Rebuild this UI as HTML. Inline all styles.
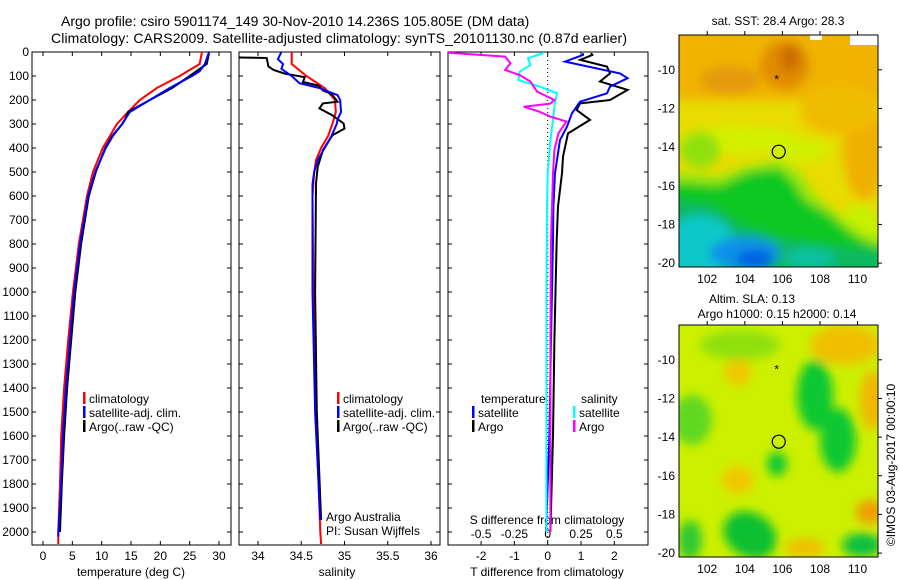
<!DOCTYPE html>
<html><head><meta charset="utf-8">
<style>
html,body{margin:0;padding:0;background:#fff;}
svg{display:block;font-family:"Liberation Sans",sans-serif;}
text{font-size:12px;fill:#000;}
</style></head>
<body>
<svg id="c" width="900" height="580" viewBox="0 0 900 580" xmlns="http://www.w3.org/2000/svg">
<defs>
<filter id="bl" x="-50%" y="-50%" width="200%" height="200%"><feGaussianBlur stdDeviation="5"/></filter>
<filter id="bl2" x="-50%" y="-50%" width="200%" height="200%"><feGaussianBlur stdDeviation="5"/></filter>
<clipPath id="m1c"><rect x="679" y="35" width="199" height="232"/></clipPath>
<clipPath id="m2c"><rect x="679" y="325" width="199" height="232"/></clipPath>
<clipPath id="p1c"><rect x="32" y="52" width="199" height="493"/></clipPath>
<clipPath id="p2c"><rect x="239" y="52" width="201" height="493"/></clipPath>
<clipPath id="p3c"><rect x="448" y="52" width="200" height="493"/></clipPath>
</defs>
<text x="61" y="26" style="font-size:14px">Argo profile: csiro 5901174_149 30-Nov-2010 14.236S 105.805E (DM data)</text>
<text x="51" y="43" style="font-size:14px" textLength="576">Climatology: CARS2009. Satellite-adjusted climatology: synTS_20101130.nc (0.87d earlier)</text>

<!-- Map 1 -->
<g clip-path="url(#m1c)">
<rect x="679" y="35" width="199" height="232" fill="#e8dc00"/>
<g filter="url(#bl)">
<rect x="660" y="20" width="240" height="80" fill="#f0b400"/>
<ellipse cx="730" cy="80" rx="30" ry="14" fill="#e49a08"/>
<ellipse cx="785" cy="65" rx="25" ry="25" fill="#e08c00"/>
<ellipse cx="790" cy="58" rx="10" ry="14" fill="#cc6c00"/>
<ellipse cx="865" cy="150" rx="22" ry="50" fill="#f0b000"/>
<ellipse cx="840" cy="110" rx="40" ry="25" fill="#f0bc00"/>
<ellipse cx="740" cy="140" rx="60" ry="14" fill="#d4f000"/>
<ellipse cx="800" cy="150" rx="30" ry="12" fill="#d0f000"/>
<ellipse cx="700" cy="150" rx="20" ry="18" fill="#90e010"/>
<ellipse cx="860" cy="230" rx="22" ry="25" fill="#c8f000"/>
<polygon points="670,172 720,176 745,166 780,160 800,172 815,195 835,212 860,232 885,238 885,280 670,280" fill="#98e810"/>
<polygon points="670,182 720,185 748,172 778,168 792,180 805,200 830,215 850,232 870,244 885,246 885,280 670,280" fill="#10c820"/>
<polygon points="670,200 710,205 740,225 780,238 830,246 885,252 885,280 670,280" fill="#10b860"/>
<ellipse cx="700" cy="245" rx="35" ry="30" fill="#10c8c8"/>
<ellipse cx="745" cy="253" rx="35" ry="16" fill="#0890e8"/>
<ellipse cx="755" cy="260" rx="18" ry="10" fill="#0060e0"/>
<ellipse cx="810" cy="258" rx="25" ry="10" fill="#10c0a0"/>
</g>
<rect x="810" y="35" width="12" height="5" fill="#fff"/>
<rect x="850" y="35" width="28" height="10" fill="#fff"/>
</g>
<rect x="679" y="35" width="199" height="232" fill="none" stroke="#000"/>
<text x="778" y="25" text-anchor="middle">sat. SST: 28.4 Argo: 28.3</text>

<!-- Map 2 -->
<g clip-path="url(#m2c)">
<rect x="679" y="325" width="199" height="232" fill="#ccf000"/>
<g filter="url(#bl2)">
<ellipse cx="845" cy="345" rx="35" ry="20" fill="#f0c000"/>
<ellipse cx="872" cy="400" rx="12" ry="30" fill="#f0b800"/>
<ellipse cx="738" cy="372" rx="14" ry="14" fill="#f0c800"/>
<ellipse cx="738" cy="480" rx="16" ry="14" fill="#f0c800"/>
<ellipse cx="870" cy="512" rx="14" ry="12" fill="#f09c00"/>
<ellipse cx="805" cy="548" rx="20" ry="10" fill="#f0c000"/>
<ellipse cx="815" cy="395" rx="18" ry="35" fill="#10c830"/>
<ellipse cx="838" cy="440" rx="18" ry="32" fill="#10c830"/>
<ellipse cx="777" cy="464" rx="10" ry="12" fill="#10c830"/>
<ellipse cx="692" cy="420" rx="20" ry="25" fill="#60d820"/>
<ellipse cx="750" cy="535" rx="28" ry="22" fill="#10c030" transform="rotate(30 750 535)"/>
<ellipse cx="862" cy="545" rx="20" ry="12" fill="#10c040"/>
<ellipse cx="690" cy="540" rx="12" ry="20" fill="#30c830"/>
<ellipse cx="740" cy="345" rx="40" ry="15" fill="#90e010"/>
</g>
</g>
<rect x="679" y="325" width="199" height="232" fill="none" stroke="#000"/>
<text x="752" y="303" text-anchor="middle">Altim. SLA: 0.13</text>
<text x="777" y="318" text-anchor="middle">Argo h1000: 0.15 h2000: 0.14</text>
<text transform="translate(895,465) rotate(-90)" text-anchor="middle">©IMOS 03-Aug-2017 00:00:10</text>

<g id="dyn"></g>
</svg>
<script>
// ---- data ----
const depthTicks = [0,100,200,300,400,500,600,700,800,900,1000,1100,1200,1300,1400,1500,1600,1700,1800,1900,2000];
const tempTicks = [0,5,10,15,20,25,30];
const salTicks = [34,34.5,35,35.5,36];
const tdiffTicks = [-2,-1,0,1,2];
const sdiffTicks = [-0.5,-0.25,0,0.25,0.5];
const sdiffLabels = ["-0.5","-0.25","0","0.25","0.5"];
const lonTicks = [102,104,106,108,110];
const latTicks = [-10,-12,-14,-16,-18,-20];

const tClimDepth = [0,50,100,150,200,250,300,350,400,500,600,700,800,900,1000,1200,1400,1600,1800,2000,2050];
const tClim = [27.1,26.7,23.3,19.4,16.5,14.5,12.6,11.4,10.2,8.5,7.5,6.8,6.1,5.6,5.1,4.3,3.6,3.1,2.9,2.6,2.6];
const tSatDepth = [0,50,80,100,150,200,250,300,350,400,500,600,700,800,1000,1200,1400,1600,1800,2000,2020];
const tSat = [28.3,27.6,26.7,25.4,21.6,18.2,14.8,13.5,11.9,10.7,8.9,7.7,7.0,6.3,5.3,4.6,3.9,3.4,3.1,2.6,2.6];
const tArgoDepth = [5,50,100,150,200,250,280,300,350,400,500,600,800,1000,1200,1400,1600,1800,2000];
const tArgo = [28.3,27.9,25.0,22.0,18.2,14.5,14.0,13.5,11.8,10.6,9.0,7.8,6.5,5.5,4.8,4.1,3.6,3.2,2.9];

const sClimDepth = [0,50,100,150,200,250,300,350,400,450,500,600,1000,1500,2000,2050];
const sClim = [34.39,34.39,34.56,34.77,34.89,34.90,34.86,34.81,34.73,34.67,34.65,34.63,34.64,34.67,34.72,34.73];
const sSatDepth = [0,30,50,70,100,130,150,180,200,250,280,300,350,400,450,500,550,1000,1500,1950];
const sSat = [34.27,34.23,34.29,34.27,34.39,34.48,34.71,34.92,34.95,34.96,34.92,34.91,34.85,34.77,34.69,34.65,34.63,34.63,34.66,34.72];
const sArgoDepth = [23,25,60,75,90,105,125,140,160,175,207,214,235,264,298,319,347,409,479,548,1000,1500,1950];
const sArgo = [33.78,34.10,34.12,34.18,34.31,34.54,34.52,34.70,34.75,34.85,34.92,34.75,34.71,34.86,34.99,35.00,34.86,34.75,34.69,34.67,34.66,34.68,34.73];

const dTSatDepth = [5,12,40,89,109,144,172,207,255,311,367,505,644,783,1200,1600,2000];
const dTSat = [1.06,1.06,0.52,2.17,2.40,1.87,1.78,0.97,0.73,0.58,0.37,0.22,0.17,0.16,0.10,0.05,-0.05];
const dTArgoDepth = [5,12,33,61,89,123,158,200,214,242,283,339,436,505,644,783,1200,1600,2000];
const dTArgo = [1.30,1.34,0.98,1.78,1.87,1.57,2.40,1.87,0.97,0.87,1.27,0.61,0.46,0.43,0.31,0.27,0.20,0.16,0.08];
const dSSatDepth = [0,5,26,54,82,117,144,172,228,283,367,505,644,1000,1500,2000];
const dSSat = [-0.03,-0.035,-0.148,-0.13,-0.21,-0.22,-0.06,0.07,0.05,0.04,0.02,0.0,-0.005,-0.01,-0.01,-0.01];
const dSArgoDepth = [2,3,19,47,75,96,123,165,200,215,228,249,269,290,339,408,505,783,1200,1600,2000];
const dSArgo = [-0.75,-0.75,-0.32,-0.28,-0.32,-0.21,-0.13,-0.08,0.05,0.02,-0.18,-0.06,0.02,0.14,0.08,0.05,0.04,0.025,0.02,0.02,0.02];

// ---- scales ----
const Y = d => 52 + d*0.24;
const XT = t => 43 + t*5.867;
const XS = s => 258 + (s-34)*86.5;
const XdT = t => 547.7 + t*33.3;
const XdS = s => 547.7 + s*133.2;
const LON = l => 679 + (l-100.5)*18.8;
const LAT = l => 35 + (-l-8.2)*19.33;
const LAT2 = l => 325 + (-l-8.2)*19.33;

const NS="http://www.w3.org/2000/svg";
const root=document.getElementById('dyn');
function mk(tag,attrs,parent){const e=document.createElementNS(NS,tag);for(const k in attrs)e.setAttribute(k,attrs[k]);(parent||root).appendChild(e);return e;}
function txt(x,y,s,anchor,parent){const e=mk('text',{x:x,y:y,'text-anchor':anchor||'start'},parent);e.textContent=s;return e;}

function line(xs,ds,xf,color,clip,name,w){
  const pts=xs.map((v,i)=>xf(v).toFixed(1)+','+Y(ds[i]).toFixed(1)).join(' ');
  const p=mk('polyline',{points:pts,fill:'none',stroke:color,'stroke-width':w||2,'clip-path':'url(#'+clip+')'});
  
  
}

function panel(x0,x1,name){
  const r=mk('rect',{x:x0,y:52,width:x1-x0,height:493,fill:'none',stroke:'#000'});
  
  
  depthTicks.forEach(d=>{
    mk('line',{x1:x0,x2:x0+4,y1:Y(d),y2:Y(d),stroke:'#000'});
    mk('line',{x1:x1,x2:x1-4,y1:Y(d),y2:Y(d),stroke:'#000'});
  });
}
panel(32,231,'temperature-panel');
panel(239,440,'salinity-panel');
panel(448,648,'difference-panel');

depthTicks.forEach(d=>{
  const t=txt(29,Y(d)+4,String(d),'end');
  
  
});
tempTicks.forEach(v=>{
  mk('line',{x1:XT(v),x2:XT(v),y1:545,y2:541,stroke:'#000'});
  mk('line',{x1:XT(v),x2:XT(v),y1:52,y2:56,stroke:'#000'});
  const t=txt(XT(v),560,String(v),'middle');
  
  
});
salTicks.forEach(v=>{
  mk('line',{x1:XS(v),x2:XS(v),y1:545,y2:541,stroke:'#000'});
  mk('line',{x1:XS(v),x2:XS(v),y1:52,y2:56,stroke:'#000'});
  const t=txt(XS(v),560,String(v),'middle');
  
  
});
tdiffTicks.forEach(v=>{
  mk('line',{x1:XdT(v),x2:XdT(v),y1:545,y2:541,stroke:'#000'});
  mk('line',{x1:XdT(v),x2:XdT(v),y1:52,y2:56,stroke:'#000'});
  const t=txt(XdT(v),560,String(v),'middle');
  
  
});
sdiffTicks.forEach((v,i)=>{
  const t=txt(XdS(v),538,sdiffLabels[i],'middle');
  
  
});
let t;
t=txt(131,576,'temperature (deg C)','middle');


t=txt(337,576,'salinity','middle');


t=txt(547,576,'T difference from climatology','middle');


t=txt(547,524,'S difference from climatology','middle');



const zl=mk('line',{x1:XdT(0),x2:XdT(0),y1:52,y2:545,stroke:'#000','stroke-dasharray':'1,3'});



line(tClim,tClimDepth,XT,'#ff0000','p1c','temp-climatology-line');
line(tArgo,tArgoDepth,XT,'#000000','p1c','temp-argo-line');
line(tSat,tSatDepth,XT,'#0000ff','p1c','temp-satellite-line');
line(sClim,sClimDepth,XS,'#ff0000','p2c','sal-climatology-line');
line(sArgo,sArgoDepth,XS,'#000000','p2c','sal-argo-line');
line(sSat,sSatDepth,XS,'#0000ff','p2c','sal-satellite-line');
line(dTArgo,dTArgoDepth,XdT,'#000000','p3c','tdiff-argo-line');
line(dTSat,dTSatDepth,XdT,'#0000ff','p3c','tdiff-satellite-line');
line(dSSat,dSSatDepth,XdS,'#00ffff','p3c','sdiff-satellite-line');
line(dSArgo,dSArgoDepth,XdS,'#ff00ff','p3c','sdiff-argo-line');

function legend(x,y,color,label){
  const g=mk('g',{});
  
  
  mk('rect',{x:x,y:y-11,width:2.5,height:12,fill:color},g);
  txt(x+6,y,label,'start',g);
}
legend(83,403,'#ff0000','climatology');
legend(83,417,'#0000ff','satellite-adj. clim.');
legend(83,431,'#000000','Argo(..raw -QC)');
legend(337,403,'#ff0000','climatology');
legend(337,417,'#0000ff','satellite-adj. clim.');
legend(337,431,'#000000','Argo(..raw -QC)');
t=txt(481,403,'temperature');


t=txt(581,403,'salinity');


legend(472,417,'#0000ff','satellite');
legend(472,431,'#000000','Argo');
legend(573,417,'#00ffff','satellite');
legend(573,431,'#ff00ff','Argo');
t=txt(326,521,'Argo Australia');


t=txt(326,535,'PI: Susan Wijffels');



[[35,267,LAT],[325,557,LAT2]].forEach(([top,bot,lat],mi)=>{
  lonTicks.forEach(v=>{
    mk('line',{x1:LON(v),x2:LON(v),y1:top,y2:top-4,stroke:'#000'});
    const tl=txt(LON(v),bot+16,String(v),'middle');
    
    
  });
  latTicks.forEach(v=>{
    mk('line',{x1:878,x2:882,y1:lat(v),y2:lat(v),stroke:'#000'});
    const tl=txt(675,lat(v)+4,String(v),'end');
    
    
  });
  const c=mk('circle',{cx:LON(105.805),cy:lat(-14.236),r:6.5,fill:'none',stroke:'#000','stroke-width':1.2});
  
  
  const s=txt(LON(105.7),lat(-10.5)+4,'*','middle');
  
  
});
</script>
</body></html>
